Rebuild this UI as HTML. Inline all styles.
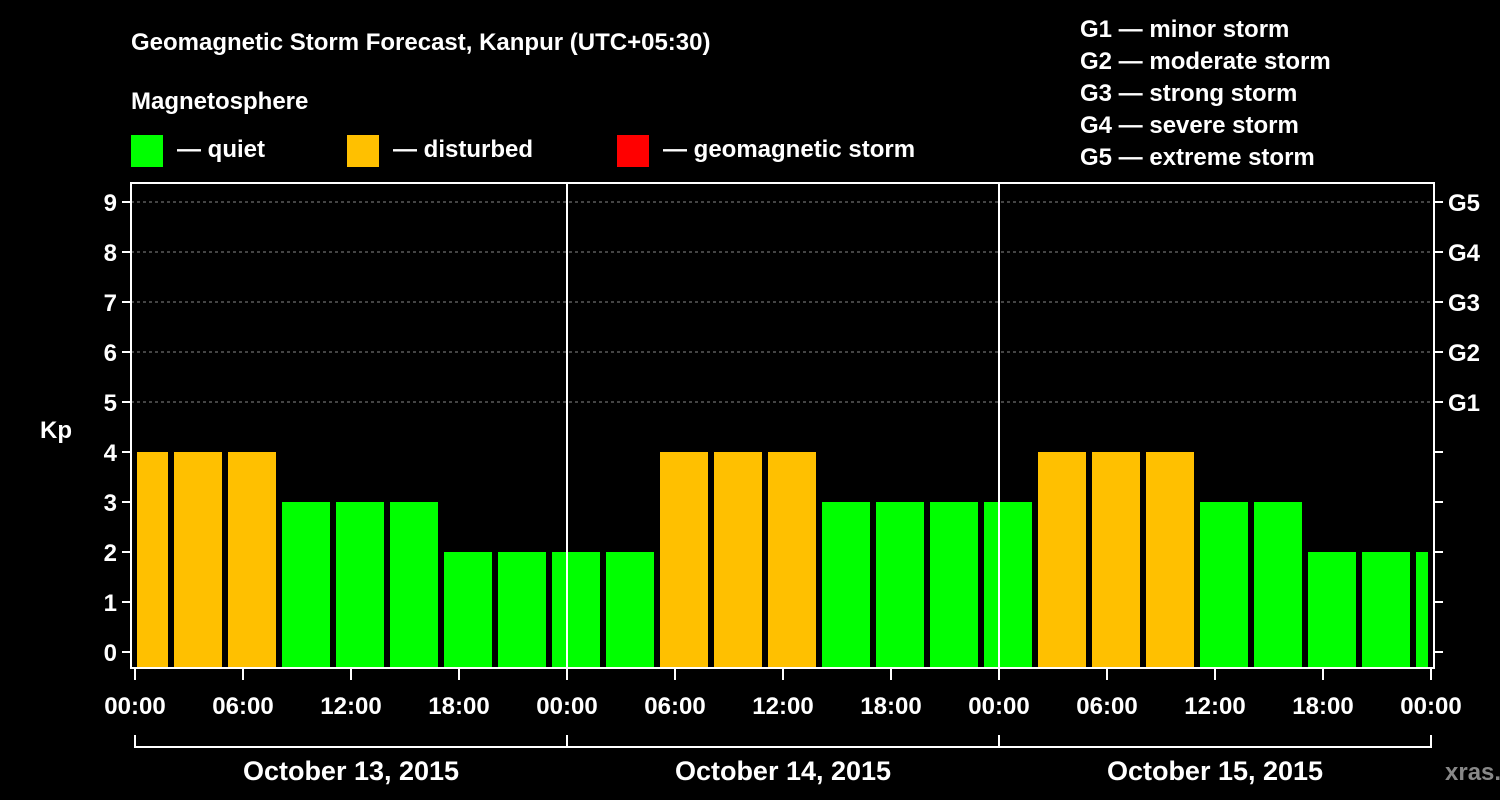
<!DOCTYPE html>
<html><head><meta charset="utf-8"><style>
body{margin:0;background:#000;}
svg{display:block;font-family:"Liberation Sans",Arial,sans-serif;font-weight:bold;}
</style></head><body>
<svg width="1500" height="800" viewBox="0 0 1500 800">
<rect width="1500" height="800" fill="#000"/>
<g fill="#fff" font-size="24">
<text x="131" y="50">Geomagnetic Storm Forecast, Kanpur (UTC+05:30)</text>
<text x="131" y="109">Magnetosphere</text>
</g>
<g font-size="24" fill="#fff">
<rect x="131" y="135" width="32" height="32" fill="#00ff00"/>
<text x="177" y="157">— quiet</text>
<rect x="347" y="135" width="32" height="32" fill="#ffc000"/>
<text x="393" y="157">— disturbed</text>
<rect x="617" y="135" width="32" height="32" fill="#ff0000"/>
<text x="663" y="157">— geomagnetic storm</text>
</g>
<g font-size="24" fill="#fff">
<text x="1080" y="37">G1 — minor storm</text>
<text x="1080" y="69">G2 — moderate storm</text>
<text x="1080" y="101">G3 — strong storm</text>
<text x="1080" y="133">G4 — severe storm</text>
<text x="1080" y="165">G5 — extreme storm</text>
</g>
<g id="grid"></g>
<g id="bars"></g>
<g id="axes"></g>
<text x="1445" y="780" fill="#888" font-size="24">xras.ru</text>
</svg>
<script>
const kpValues=[4,4,4,3,3,3,2,2,2,2,4,4,4,3,3,3,3,4,4,4,3,3,2,2,2];
const barStartHours=[-1,2,5,8,11,14,17,20,23,26,29,32,35,38,41,44,47,50,53,56,59,62,65,68,71];
const xTickLabels=["00:00","06:00","12:00","18:00","00:00","06:00","12:00","18:00","00:00","06:00","12:00","18:00","00:00"];
const dayLabels=["October 13, 2015","October 14, 2015","October 15, 2015"];
const gLabels=["G1","G2","G3","G4","G5"];
const NS="http://www.w3.org/2000/svg";
const X0=135,PXH=18,Y0=652,PXK=50,PL=131,PR=1434,PT=183,PB=668;
const x=h=>X0+h*PXH, y=k=>Y0-k*PXK;
function mk(tag,attrs,parent,txt){const e=document.createElementNS(NS,tag);for(const k in attrs)e.setAttribute(k,attrs[k]);if(txt!==undefined)e.textContent=txt;parent.appendChild(e);return e;}
const grid=document.getElementById('grid'),bars=document.getElementById('bars'),axes=document.getElementById('axes');
for(let k=5;k<=9;k++){const l=mk('line',{x1:PL,x2:PR,y1:y(k),y2:y(k),stroke:'#888','stroke-dasharray':'3,3'},grid);

}
barStartHours.forEach((h,i)=>{const v=kpValues[i];
let x1=Math.max(x(h)+3,x(0)+2),x2=Math.min(x(h+3)-3,x(72)-3);
const r=mk('rect',{x:x1,y:y(v),width:x2-x1,height:PB-y(v),fill:v>=5?'#ff0000':(v>=4?'#ffc000':'#00ff00')},bars);

});
[24,48].forEach(h=>{const l=mk('line',{x1:x(h),x2:x(h),y1:PT,y2:PB,stroke:'#fff','stroke-width':2},axes);

});
const f=mk('rect',{x:PL,y:PT,width:PR-PL,height:PB-PT,fill:'none',stroke:'#fff','stroke-width':2},axes);


for(let k=0;k<=9;k++){
mk('line',{x1:PL-9,x2:PL,y1:y(k),y2:y(k),stroke:'#fff','stroke-width':2},axes);
mk('line',{x1:PR,x2:PR+9,y1:y(k),y2:y(k),stroke:'#fff','stroke-width':2},axes);
const t=mk('text',{x:PL-14,y:y(k)+9,fill:'#fff','font-size':24,'text-anchor':'end'},axes,String(k));


if(k>=5){const g=mk('text',{x:PR+14,y:y(k)+9,fill:'#fff','font-size':24},axes,gLabels[k-5]);

}}
const yt=mk('text',{x:40,y:438,fill:'#fff','font-size':24},axes,'Kp');


xTickLabels.forEach((s,i)=>{const xx=x(i*6);
mk('line',{x1:xx,x2:xx,y1:PB,y2:PB+12,stroke:'#fff','stroke-width':2},axes);
const t=mk('text',{x:xx,y:714,fill:'#fff','font-size':24,'text-anchor':'middle'},axes,s);

});
mk('line',{x1:x(0),x2:x(72),y1:747,y2:747,stroke:'#fff','stroke-width':2},axes);
for(let d=0;d<=3;d++)mk('line',{x1:x(d*24),x2:x(d*24),y1:735,y2:748,stroke:'#fff','stroke-width':2},axes);
dayLabels.forEach((s,i)=>{const t=mk('text',{x:x(i*24+12),y:780,fill:'#fff','font-size':27,'text-anchor':'middle'},axes,s);

});
</script>
</body></html>
